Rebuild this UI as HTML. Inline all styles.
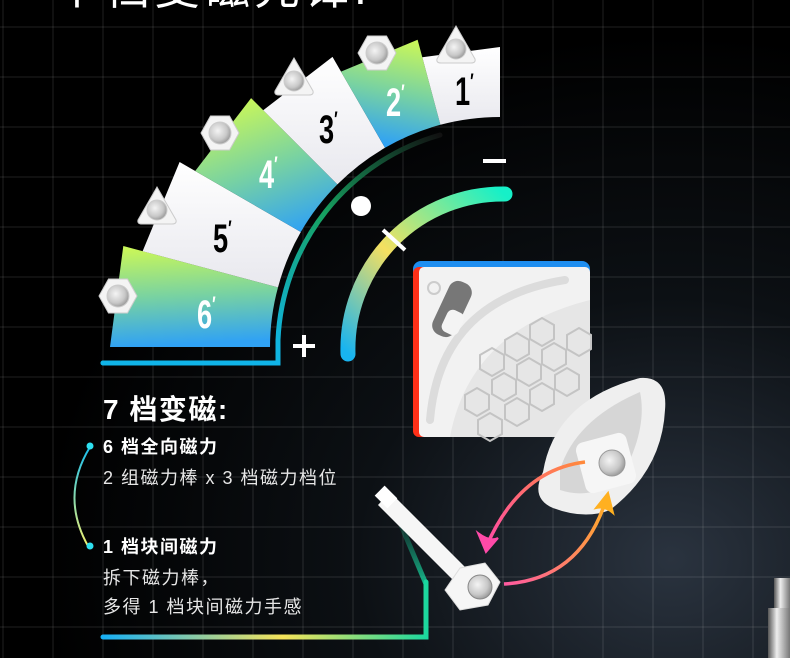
<!DOCTYPE html>
<html><head><meta charset="utf-8"><style>
html,body{margin:0;padding:0;background:#000;}
svg{display:block}
</style></head><body>
<svg width="790" height="658" viewBox="0 0 790 658" xmlns="http://www.w3.org/2000/svg" font-family="'Liberation Sans','Noto Sans CJK SC',sans-serif">
<defs>
<radialGradient id="bg" cx="0.85" cy="0.85" r="0.8">
<stop offset="0" stop-color="#2a333f"/><stop offset="0.5" stop-color="#0c1014"/><stop offset="1" stop-color="#000"/>
</radialGradient>
<linearGradient id="g6" gradientUnits="userSpaceOnUse" x1="125" y1="250" x2="130" y2="347"><stop offset="0" stop-color="#c8f65a"/><stop offset="0.5" stop-color="#78d2a2"/><stop offset="1" stop-color="#30a2f4"/></linearGradient>
<linearGradient id="g4" gradientUnits="userSpaceOnUse" x1="251" y1="98" x2="300" y2="232"><stop offset="0" stop-color="#c8f65a"/><stop offset="0.5" stop-color="#78d2a2"/><stop offset="1" stop-color="#30a2f4"/></linearGradient>
<linearGradient id="g2" gradientUnits="userSpaceOnUse" x1="410" y1="42" x2="390" y2="145"><stop offset="0" stop-color="#c8f65a"/><stop offset="0.5" stop-color="#78d2a2"/><stop offset="1" stop-color="#30a2f4"/></linearGradient>
<linearGradient id="wh" x1="0" y1="0" x2="0" y2="1"><stop offset="0" stop-color="#ffffff"/><stop offset="1" stop-color="#e8e8ee"/></linearGradient>
<linearGradient id="arc2" gradientUnits="userSpaceOnUse" x1="350" y1="355" x2="505" y2="195"><stop offset="0" stop-color="#18b4f0"/><stop offset="0.45" stop-color="#f5e060"/><stop offset="1" stop-color="#16f0c8"/></linearGradient>
<linearGradient id="arc1" gradientUnits="userSpaceOnUse" x1="277" y1="345" x2="440" y2="135"><stop offset="0" stop-color="#10b4e0"/><stop offset="0.5" stop-color="#16a060"/><stop offset="1" stop-color="#111"/></linearGradient>
<linearGradient id="bl" gradientUnits="userSpaceOnUse" x1="103" y1="0" x2="430" y2="0"><stop offset="0" stop-color="#18b0f5"/><stop offset="0.55" stop-color="#f5e35a"/><stop offset="1" stop-color="#17d7a0"/></linearGradient>
<linearGradient id="bl2" gradientUnits="userSpaceOnUse" x1="0" y1="600" x2="0" y2="515"><stop offset="0" stop-color="#17d7a0"/><stop offset="1" stop-color="#17d7a0" stop-opacity="0"/></linearGradient>
<linearGradient id="la" x1="0" y1="0" x2="0" y2="1"><stop offset="0" stop-color="#19c0f0"/><stop offset="1" stop-color="#f0f070"/></linearGradient>
<linearGradient id="ap" gradientUnits="userSpaceOnUse" x1="585" y1="462" x2="485" y2="548"><stop offset="0" stop-color="#ff8a3a"/><stop offset="1" stop-color="#ff4aa8"/></linearGradient>
<linearGradient id="ao" gradientUnits="userSpaceOnUse" x1="505" y1="585" x2="607" y2="497"><stop offset="0" stop-color="#ff5aa0"/><stop offset="1" stop-color="#ffb020"/></linearGradient>
<radialGradient id="met" cx="0.4" cy="0.4" r="0.7"><stop offset="0" stop-color="#f4f4f4"/><stop offset="0.6" stop-color="#c8c8c8"/><stop offset="1" stop-color="#8a8a8a"/></radialGradient>
<linearGradient id="cyl" x1="0" y1="0" x2="1" y2="0"><stop offset="0" stop-color="#555"/><stop offset="0.4" stop-color="#eee"/><stop offset="1" stop-color="#777"/></linearGradient>
</defs>
<rect width="790" height="658" fill="url(#bg)"/>
<g stroke="#fff" stroke-opacity="0.13" stroke-width="1">
<path d="M3 0V658M53 0V658M103 0V658M153 0V658M203 0V658M253 0V658M303 0V658M353 0V658M403 0V658M453 0V658M503 0V658M553 0V658M603 0V658M653 0V658M703 0V658M753 0V658"/>
<path d="M0 27H790M0 77H790M0 127H790M0 177H790M0 227H790M0 277H790M0 327H790M0 377H790M0 427H790M0 477H790M0 527H790M0 577H790M0 627H790"/>
</g>
<text x="54" y="4" font-size="46" fill="#fff" letter-spacing="4">个档变磁先锋:</text>

<!-- fan -->
<path d="M270,347 L110,347 L123.3,246 L278,287.4 A230,230 0 0,0 270,347Z" fill="url(#g6)"/>
<path d="M278,287.4 L142.6,251.2 L179.6,162 L300.8,232 A230,230 0 0,0 278,287.4Z" fill="url(#wh)"/>
<path d="M300.8,232 L195.2,171 L251.1,98.1 L337.4,184.4 A230,230 0 0,0 300.8,232Z" fill="url(#g4)"/>
<path d="M337.4,184.4 L263.2,110.2 L332.5,56.9 L385,147.8 A230,230 0 0,0 337.4,184.4Z" fill="url(#wh)"/>
<path d="M385,147.8 L341,71.6 L417.6,39.8 L440.4,124.8 A230,230 0 0,0 385,147.8Z" fill="url(#g2)"/>
<path d="M440.4,124.8 L422.3,57.2 L500,47 L500,117 A230,230 0 0,0 440.4,124.8Z" fill="url(#wh)"/>
<g font-weight="bold" font-size="40">
<text transform="translate(197,328) scale(0.68,1)" fill="#fff">6<tspan font-size="22" dy="-16">′</tspan></text>
<text transform="translate(213,252) scale(0.68,1)" fill="#000">5<tspan font-size="22" dy="-16">′</tspan></text>
<text transform="translate(259,188) scale(0.68,1)" fill="#fff">4<tspan font-size="22" dy="-16">′</tspan></text>
<text transform="translate(319,143) scale(0.68,1)" fill="#000">3<tspan font-size="22" dy="-16">′</tspan></text>
<text transform="translate(386,116) scale(0.68,1)" fill="#fff">2<tspan font-size="22" dy="-16">′</tspan></text>
<text transform="translate(455,105) scale(0.68,1)" fill="#000">1<tspan font-size="22" dy="-16">′</tspan></text>
</g>
<!-- bolts -->
<g stroke="#ccc" stroke-width="1">
<g transform="translate(118,296)"><polygon points="-19,0 -9.5,-17 9.5,-17 19,0 9.5,17 -9.5,17" fill="#f4f4f4"/><circle r="11" fill="url(#met)"/></g>
<g transform="translate(157,207)"><path d="M0,-20 L19,13 Q20,17 15,17 L-15,17 Q-20,17 -19,13Z" fill="#f4f4f4"/><circle cy="3" r="10" fill="url(#met)"/></g>
<g transform="translate(220,133)"><polygon points="-19,0 -9.5,-17 9.5,-17 19,0 9.5,17 -9.5,17" fill="#f4f4f4"/><circle r="11" fill="url(#met)"/></g>
<g transform="translate(294,78)"><path d="M0,-20 L19,13 Q20,17 15,17 L-15,17 Q-20,17 -19,13Z" fill="#f4f4f4"/><circle cy="3" r="10" fill="url(#met)"/></g>
<g transform="translate(377,53)"><polygon points="-19,0 -9.5,-17 9.5,-17 19,0 9.5,17 -9.5,17" fill="#f4f4f4"/><circle r="11" fill="url(#met)"/></g>
<g transform="translate(456,46)"><path d="M0,-20 L19,13 Q20,17 15,17 L-15,17 Q-20,17 -19,13Z" fill="#f4f4f4"/><circle cy="3" r="10" fill="url(#met)"/></g>
</g>
<!-- inner line -->
<path d="M103,363 H278 V340 A223,223 0 0,1 440,135" fill="none" stroke="url(#arc1)" stroke-width="5" stroke-linecap="round"/>
<path d="M103,363 H278" stroke="#10b4e8" stroke-width="5" stroke-linecap="round"/>
<path d="M348,354 A155,155 0 0,1 505,194" fill="none" stroke="url(#arc2)" stroke-width="15" stroke-linecap="round"/>
<line x1="383" y1="230" x2="405" y2="250" stroke="#fff" stroke-width="4"/>
<circle cx="361" cy="206" r="10" fill="#fff"/>
<rect x="483" y="159" width="23" height="4" fill="#fff"/>
<path d="M293,346 H315 M304,335 V357" stroke="#fff" stroke-width="4"/>

<!-- cube -->
<rect x="413" y="261" width="177" height="176" rx="8" fill="#1e8ef0"/>
<rect x="413" y="267" width="177" height="170" rx="6" fill="#ff3018"/>
<rect x="419" y="267" width="171" height="170" rx="5" fill="#f2f2f2"/>
<path d="M430,420 Q440,300 565,280" fill="none" stroke="#dcdcdc" stroke-width="8" stroke-linecap="round"/>
<path d="M450,437 Q470,330 590,300 V437Z" fill="#e6e6e6"/>
<g fill="none" stroke="#c4c4c4" stroke-width="2">
<polygon points="480,355 492,348 504,355 504,369 492,376 480,369"/>
<polygon points="505,340 517,333 529,340 529,354 517,361 505,354"/>
<polygon points="530,325 542,318 554,325 554,339 542,346 530,339"/>
<polygon points="492,380 504,373 516,380 516,394 504,401 492,394"/>
<polygon points="517,365 529,358 541,365 541,379 529,386 517,379"/>
<polygon points="542,350 554,343 566,350 566,364 554,371 542,364"/>
<polygon points="567,335 579,328 591,335 591,349 579,356 567,349"/>
<polygon points="465,395 477,388 489,395 489,409 477,416 465,409"/>
<polygon points="505,405 517,398 529,405 529,419 517,426 505,419"/>
<polygon points="530,390 542,383 554,390 554,404 542,411 530,404"/>
<polygon points="555,375 567,368 579,375 579,389 567,396 555,389"/>
<polygon points="478,420 490,413 502,420 502,434 490,441 478,434"/>
</g>
<rect x="440" y="280" width="24" height="58" rx="10" fill="#777" transform="rotate(25 452 309)"/>
<rect x="444" y="310" width="18" height="24" rx="6" fill="#f4f4f4" transform="rotate(25 452 322)"/>
<circle cx="434" cy="288" r="6" fill="none" stroke="#ccc" stroke-width="2"/>

<!-- holder -->
<path d="M543,472 Q555,400 640,378 Q668,376 665,410 Q662,470 610,510 Q585,520 553,508 Q530,498 543,472Z" fill="#efefef"/>
<path d="M560,470 Q575,420 640,392 Q648,430 620,480 Q590,500 560,490Z" fill="#d6d6d6"/>
<rect x="580" y="437" width="52" height="52" rx="8" fill="#f6f6f6" transform="rotate(-15 606 463)"/>
<circle cx="612" cy="463" r="13" fill="url(#met)" stroke="#999"/>
<!-- bottom line behind rod -->
<path d="M103,637 H426 V582" fill="none" stroke="url(#bl)" stroke-width="5" stroke-linecap="round"/>
<path d="M426,584 L398,518" fill="none" stroke="url(#bl2)" stroke-width="5"/>
<!-- rod -->
<path d="M378,505 L390,492 L470,572 L458,585Z" fill="#f6f6f6"/>
<rect x="377" y="490" width="18" height="14" fill="#fff" transform="rotate(45 386 497)"/>
<polygon points="445,590 460,568 485,563 500,582 488,605 460,610" fill="#f6f6f6" stroke="#ddd"/>
<circle cx="480" cy="587" r="12" fill="url(#met)" stroke="#888"/>
<!-- arrows -->
<path d="M585,462 Q520,470 487,545" fill="none" stroke="url(#ap)" stroke-width="3.5"/>
<path d="M478,533 L486,552 L498,538 Q490,542 478,533Z" fill="#ff4aa8" stroke="#ff4aa8" stroke-width="2"/>
<path d="M504,584 Q580,580 606,500" fill="none" stroke="url(#ao)" stroke-width="3.5"/>
<path d="M596,508 L608,493 L613,513 Q605,506 596,508Z" fill="#ffb020" stroke="#ffb020" stroke-width="2"/>
<!-- cylinder -->
<rect x="774" y="578" width="16" height="30" fill="url(#cyl)"/>
<rect x="768" y="608" width="22" height="50" fill="url(#cyl)"/>

<!-- texts -->
<text x="103" y="419" font-size="28" font-weight="bold" fill="#fff" letter-spacing="1.5">7 档变磁:</text>
<path d="M90,447 Q60,496 88,546" fill="none" stroke="url(#la)" stroke-width="2"/>
<circle cx="90" cy="446" r="3.5" fill="#2ee0f0"/>
<circle cx="90" cy="546" r="3.5" fill="#2ee0f0"/>
<text x="103" y="453" font-size="18" font-weight="bold" fill="#fff" letter-spacing="1.5">6 档全向磁力</text>
<text x="103" y="484" font-size="18" fill="#e6e6e6" letter-spacing="1.5">2 组磁力棒 x 3 档磁力档位</text>
<text x="103" y="553" font-size="18" font-weight="bold" fill="#fff" letter-spacing="1.5">1 档块间磁力</text>
<text x="103" y="584" font-size="18" fill="#e6e6e6" letter-spacing="1.5">拆下磁力棒，</text>
<text x="103" y="613" font-size="18" fill="#e6e6e6" letter-spacing="1.5">多得 1 档块间磁力手感</text>
</svg>
</body></html>
